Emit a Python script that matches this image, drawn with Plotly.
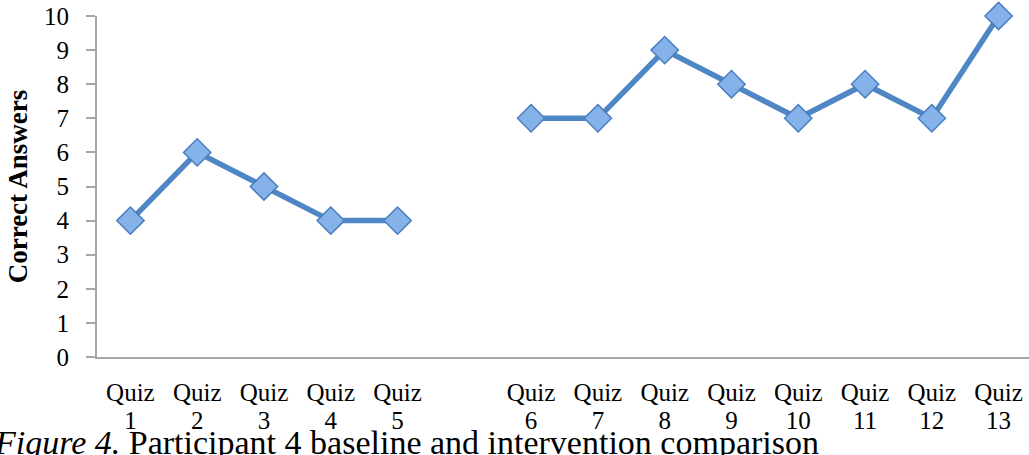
import plotly.graph_objects as go

# Quiz labels; the empty slot separates baseline from intervention
categories = ["Quiz 1", "Quiz 2", "Quiz 3", "Quiz 4", "Quiz 5", "",
              "Quiz 6", "Quiz 7", "Quiz 8", "Quiz 9", "Quiz 10",
              "Quiz 11", "Quiz 12", "Quiz 13"]
correct_answers = [4, 6, 5, 4, 4, None, 7, 7, 9, 8, 7, 8, 7, 10]
y_ticks = list(range(0, 11))
caption = "<i>Figure 4.</i> Participant 4 baseline and intervention comparison"

x_pos = list(range(len(categories)))
# two-line category labels drawn on two stacked axes for tighter line spacing
label_word = [c.split(" ")[0] if c else "" for c in categories]
label_num = [c.split(" ")[1] if c else "" for c in categories]

serif = "Liberation Serif"
x_range = [-0.5, 13.455]

fig = go.Figure()
fig.add_trace(go.Scatter(
    x=x_pos,
    y=correct_answers,
    mode="lines+markers",
    connectgaps=False,
    cliponaxis=False,
    line=dict(color="#4f86c6", width=5.5),
    marker=dict(symbol="diamond", size=21, color="#86b2ea",
                line=dict(color="#4a7ebf", width=1.5)),
    showlegend=False,
))
# invisible companion trace so the second label axis is drawn
fig.add_trace(go.Scatter(
    x=x_pos, y=correct_answers, xaxis="x2", mode="none",
    showlegend=False, hoverinfo="skip",
))

fig.update_layout(
    width=1029, height=455,
    margin=dict(l=97, r=0, t=16, b=98),
    paper_bgcolor="white", plot_bgcolor="white",
    xaxis=dict(
        range=x_range,
        tickmode="array", tickvals=x_pos, ticktext=label_word,
        showline=True, linecolor="#a6a6a6", linewidth=2,
        showgrid=False, zeroline=False, ticks="",
        tickfont=dict(family=serif, size=25, color="black"),
        ticklabelstandoff=12,
    ),
    xaxis2=dict(
        range=x_range, overlaying="x", anchor="y", side="bottom",
        tickmode="array", tickvals=x_pos, ticktext=label_num,
        showline=False, showgrid=False, zeroline=False, ticks="",
        tickfont=dict(family=serif, size=25, color="black"),
        ticklabelstandoff=46,
    ),
    yaxis=dict(
        range=[0, 10],
        tickmode="array", tickvals=y_ticks,
        showline=True, linecolor="#a6a6a6", linewidth=2,
        showgrid=False, zeroline=False,
        ticks="outside", ticklen=9, tickwidth=2, tickcolor="#a6a6a6",
        tickfont=dict(family=serif, size=25, color="black"),
        ticklabelstandoff=12,
        title=dict(text="<b>Correct Answers</b>",
                   font=dict(family=serif, size=27, color="black"),
                   standoff=9),
    ),
    annotations=[dict(
        text=caption, xref="paper", yref="paper", x=0, y=0,
        xanchor="left", yanchor="bottom", xshift=-105, yshift=-106,
        showarrow=False, font=dict(family=serif, size=34, color="black"),
    )],
)

fig.write_html("out.html")
